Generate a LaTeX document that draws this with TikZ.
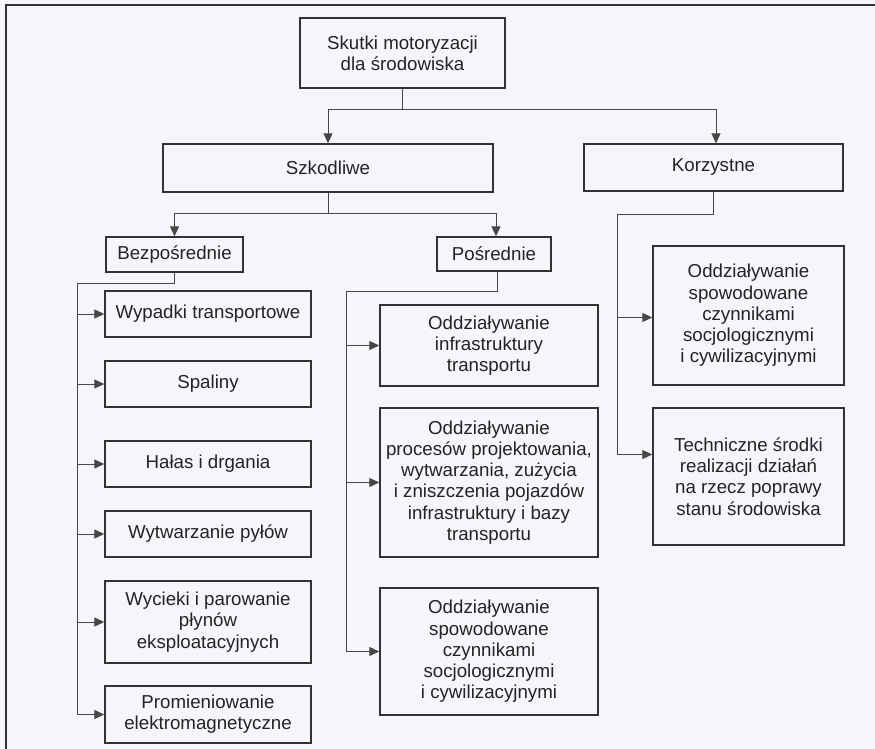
\documentclass[tikz,border=0pt]{standalone}
\usepackage{fontspec}
\setmainfont{Liberation Sans}
\usetikzlibrary{arrows.meta, positioning, calc}
\definecolor{scanbg}{RGB}{244, 246, 250}
\definecolor{inkgray}{RGB}{50, 50, 50}
\definecolor{wiregray}{RGB}{70, 70, 70}
\definecolor{textgray}{RGB}{35, 35, 35}

\tikzset{
    effbox/.style={draw=inkgray, line width=1.4pt, align=center, inner sep=0pt,
        text=textgray, font=\fontsize{18.7}{21.3}\selectfont},
    wire/.style={draw=wiregray, line width=1pt},
    wirearrow/.style={wire, -{Triangle[length=10pt, width=9pt]}}
}

\begin{document}
\begin{tikzpicture}[x=1pt, y=-1pt]

\fill[scanbg] (0,0) rectangle (875,749);
\useasboundingbox (0,0) rectangle (875,749);

% Scan frame
\draw[inkgray, line width=2pt] (875,5) -- (6,5) -- (6,749);

% Level 1 and 2
\node[effbox, minimum width=205pt, minimum height=70pt] (root) at (402.5,53) {Skutki motoryzacji\\dla środowiska};
\node[effbox, minimum width=330pt, minimum height=48pt] (szk) at (328,168) {Szkodliwe};
\node[effbox, minimum width=259pt, minimum height=47pt] (korz) at (713.5,167.5) {Korzystne};

% Level 3
\node[effbox, minimum width=137pt, minimum height=35pt] (bezp) at (174.5,254.5) {Bezpośrednie};
\node[effbox, minimum width=114pt, minimum height=34pt] (posr) at (494,254) {Pośrednie};

% Direct effects
\node[effbox, minimum width=206pt, minimum height=46pt] (wyp) at (208,314) {Wypadki transportowe};
\node[effbox, minimum width=206pt, minimum height=46pt] (spal) at (208,384) {Spaliny};
\node[effbox, minimum width=206pt, minimum height=46pt] (halas) at (208,464) {Hałas i drgania};
\node[effbox, minimum width=206pt, minimum height=46pt] (pyl) at (208,534) {Wytwarzanie pyłów};
\node[effbox, minimum width=206pt, minimum height=82pt] (wyc) at (208,622) {Wycieki i parowanie\\płynów\\eksploatacyjnych};
\node[effbox, minimum width=206pt, minimum height=57pt] (prom) at (208,714.5) {Promieniowanie\\elektromagnetyczne};

% Indirect effects
\node[effbox, minimum width=218pt, minimum height=81pt] (infra) at (489,345.5) {Oddziaływanie\\infrastruktury\\transportu};
\node[effbox, minimum width=218pt, minimum height=149pt] (proc) at (489,482.5) {Oddziaływanie\\procesów projektowania,\\wytwarzania, zużycia\\i zniszczenia pojazdów\\infrastruktury i bazy\\transportu};
\node[effbox, minimum width=218pt, minimum height=127pt] (spow) at (489,651.5) {Oddziaływanie\\spowodowane\\czynnikami\\socjologicznymi\\i cywilizacyjnymi};

% Beneficial effects
\node[effbox, minimum width=191pt, minimum height=139pt] (spowk) at (748.5,315.5) {Oddziaływanie\\spowodowane\\czynnikami\\socjologicznymi\\i cywilizacyjnymi};
\node[effbox, minimum width=191pt, minimum height=137pt] (tech) at (748.5,476.5) {Techniczne środki\\realizacji działań\\na rzecz poprawy\\stanu środowiska};

% Junctions
\coordinate (jroot) at (402.5,110);
\coordinate (jszk) at (328,213);
\coordinate (jbezp) at (77,283);
\coordinate (jposr) at (346,291);
\coordinate (jkorz) at (617,214);

% Connectors
\draw[wire] (root) -- (jroot);
\draw[wirearrow] (jroot) -| (szk);
\draw[wirearrow] (jroot) -| ([xshift=2.5pt]korz.north);

\draw[wire] (szk) -- (jszk);
\draw[wirearrow] (jszk) -| (bezp);
\draw[wirearrow] (jszk) -| ([xshift=2pt]posr.north);

\draw[wire] (bezp.south) |- (jbezp);
\foreach \n in {wyp, spal, halas, pyl, wyc, prom} {
    \draw[wirearrow] (jbezp) |- (\n);
}

\draw[wire] ([xshift=3pt]posr.south) |- (jposr);
\foreach \n in {infra, proc, spow} {
    \draw[wirearrow] (jposr) |- (\n);
}

\draw[wire] (korz.south) |- (jkorz);
\draw[wirearrow] (jkorz) |- ([yshift=-2pt]spowk.west);
\draw[wirearrow] (jkorz) |- ([yshift=22pt]tech.west);

\end{tikzpicture}
\end{document}
